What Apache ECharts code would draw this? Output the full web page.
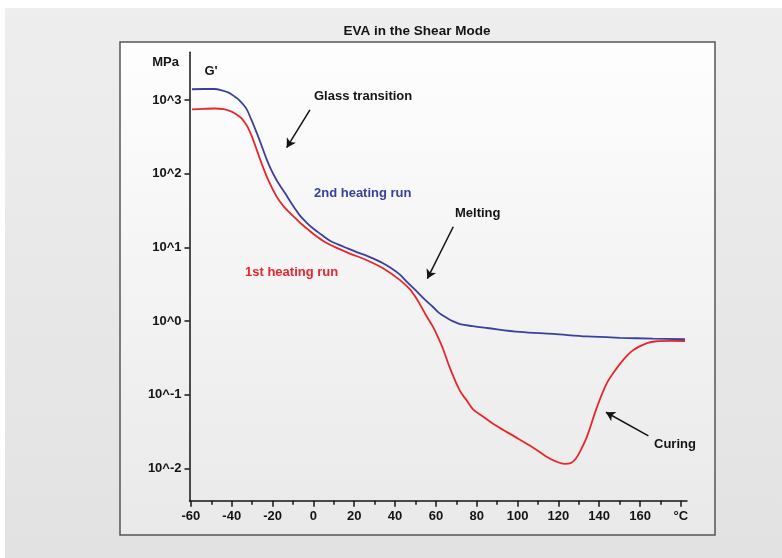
<!DOCTYPE html>
<html>
<head>
<meta charset="utf-8">
<script src="https://cdn.jsdelivr.net/npm/echarts@6/dist/echarts.min.js"></script>
<style>html,body{margin:0;padding:0;background:#fff;}#c{width:782px;height:558px;}</style>
</head>
<body>
<div id="c"></div>
<script>
// Temperature (°C) and log10 of G' (MPa)
const secondRunT = [-59.5, -54, -48.5, -44, -41.5, -38.5, -36, -33, -30.5, -28, -25.5, -23, -20.5, -18, -16.4, -14, -11.5, -9, -6.6, -3.5, -0.1, 4, 8.1, 12, 16.3, 21.2, 26.2, 30, 34.1, 38, 42.4, 45.8, 50.7, 55, 58.6, 61.5, 65.4, 68.5, 71.8, 78, 85, 101.2, 117.4, 134, 150.2, 166.4, 182];
const secondRunLogG = [3.146, 3.150, 3.150, 3.125, 3.100, 3.045, 2.990, 2.890, 2.740, 2.570, 2.390, 2.200, 2.040, 1.910, 1.840, 1.740, 1.630, 1.525, 1.430, 1.340, 1.255, 1.170, 1.090, 1.040, 0.990, 0.935, 0.885, 0.840, 0.785, 0.720, 0.630, 0.530, 0.400, 0.280, 0.190, 0.110, 0.041, -0.005, -0.041, -0.070, -0.095, -0.149, -0.176, -0.210, -0.228, -0.240, -0.248];
const firstRunT = [-59.5, -54, -48.2, -44, -40.1, -37.5, -35.2, -33.5, -31.9, -30.2, -28.6, -27, -25.4, -22.1, -18, -15, -12, -9, -6, -3, 0.5, 6, 12, 17.9, 26.2, 34.1, 42.4, 47.3, 50, 52.2, 55, 58.6, 61, 63.5, 66.9, 71.8, 75.1, 78.2, 83.2, 90, 98, 107.7, 114, 119, 123.2, 126, 128.5, 131, 134, 138.9, 143.8, 148.6, 152, 156.7, 163.4, 168.2, 175, 182];
const firstRunLogG = [2.874, 2.880, 2.885, 2.875, 2.842, 2.800, 2.751, 2.690, 2.616, 2.510, 2.389, 2.265, 2.140, 1.914, 1.688, 1.570, 1.480, 1.400, 1.320, 1.250, 1.170, 1.065, 0.985, 0.915, 0.825, 0.715, 0.555, 0.430, 0.325, 0.225, 0.085, -0.080, -0.220, -0.380, -0.640, -0.950, -1.080, -1.200, -1.300, -1.430, -1.560, -1.720, -1.840, -1.910, -1.940, -1.930, -1.870, -1.750, -1.570, -1.170, -0.840, -0.640, -0.520, -0.394, -0.300, -0.275, -0.270, -0.272];

const xMajorTicks = [-60, -40, -20, 0, 20, 40, 60, 80, 100, 120, 140, 160, 180];
const xMinorTicks = [-50, -30, -10, 10, 30, 50, 70, 90, 110, 130, 150, 170];
const yTicks = [-2, -1, 0, 1, 2, 3];
const xUnitLabel = '°C';

// Annotation arrows in data coordinates [T, log10 G']
const arrows = [
  [[-1.7, 2.865], [-13.1, 2.353]],
  [[68.5, 1.280], [55.8, 0.574]],
  [[164.1, -1.561], [143.3, -1.239]]
];

const FONT = '"Liberation Sans", Arial, sans-serif';
const INK = '#141414';
const BLUE = '#3a419b';
const RED = '#e5272e';

const chart = echarts.init(document.getElementById('c'));

function pairs(xs, ys) { return xs.map((x, i) => [x, ys[i]]); }

function txt(text, x, y, color, align, size) {
  return {
    type: 'text', z: 50,
    style: { text: text, x: x, y: y, fill: color || INK, fontSize: size || 13, fontWeight: 'bold', fontFamily: FONT, align: align || 'left', verticalAlign: 'middle' }
  };
}

const option = {
  animation: false,
  backgroundColor: '#ffffff',
  graphic: [
    { type: 'rect', z: -10, silent: true, shape: { x: 5, y: 8, width: 777, height: 550 },
      style: { fill: new echarts.graphic.LinearGradient(0, 0, 0, 1, [{ offset: 0, color: '#eeeeee' }, { offset: 1, color: '#e2e2e2' }]) } },
    { type: 'rect', z: -5, silent: true, shape: { x: 120, y: 42, width: 595, height: 493 },
      style: { fill: new echarts.graphic.LinearGradient(0, 0, 0, 1, [{ offset: 0, color: '#fefefe' }, { offset: 1, color: '#e9e9e9' }]), stroke: '#555555', lineWidth: 1.5 } },
    txt('EVA in the Shear Mode', 417, 31, INK, 'center', 13.5),
    txt('MPa', 165.5, 62, INK, 'center'),
    txt("G'", 211, 71, INK, 'center'),
    txt('Glass transition', 314, 96),
    txt('2nd heating run', 314, 193, BLUE),
    txt('Melting', 455, 213.5),
    txt('1st heating run', 245, 272.5, RED),
    txt('Curing', 654, 444)
  ],
  grid: { left: 189.5, right: 95, top: 52.3, bottom: 57.3, outerBoundsMode: 'none' },
  xAxis: [
    {
      type: 'value', min: -60.7, max: 183,
      axisLine: { onZero: false, lineStyle: { color: INK, width: 1.5 } },
      axisTick: { customValues: xMajorTicks, length: 6, lineStyle: { color: INK, width: 1.5 } },
      axisLabel: { customValues: xMajorTicks, margin: 9, color: INK, fontSize: 13, fontWeight: 'bold', fontFamily: FONT,
        formatter: v => (v === 180 ? xUnitLabel : String(v)) },
      splitLine: { show: false }
    },
    {
      type: 'value', min: -60.7, max: 183, position: 'bottom',
      axisLine: { show: false, onZero: false },
      axisTick: { customValues: xMinorTicks, length: 4, lineStyle: { color: INK, width: 1.5 } },
      axisLabel: { show: false },
      splitLine: { show: false }
    }
  ],
  yAxis: {
    type: 'value', min: -2.44, max: 3.648,
    axisLine: { show: true, onZero: false, lineStyle: { color: INK, width: 1.5 } },
    axisTick: { show: true, customValues: yTicks, length: 5, lineStyle: { color: INK, width: 1.5 } },
    axisLabel: { customValues: yTicks, margin: 8, color: INK, fontSize: 13, fontWeight: 'bold', fontFamily: FONT,
      formatter: v => '10^' + v },
    splitLine: { show: false }
  },
  series: [
    {
      type: 'line', name: '2nd heating run', xAxisIndex: 0, data: pairs(secondRunT, secondRunLogG),
      showSymbol: false, smooth: 0.35, z: 3,
      lineStyle: { color: BLUE, width: 1.8 }
    },
    {
      type: 'line', name: '1st heating run', xAxisIndex: 0, data: pairs(firstRunT, firstRunLogG),
      showSymbol: false, smooth: 0.35, z: 2,
      lineStyle: { color: RED, width: 1.8 },
      markLine: {
        silent: true, animation: false,
        symbol: ['none', 'arrow'], symbolSize: [8, 9],
        label: { show: false },
        lineStyle: { color: INK, width: 1.5, type: 'solid' },
        emphasis: { disabled: true },
        data: arrows.map(a => [{ coord: a[0] }, { coord: a[1] }])
      }
    }
  ]
};
chart.setOption(option);
</script>
</body>
</html>
